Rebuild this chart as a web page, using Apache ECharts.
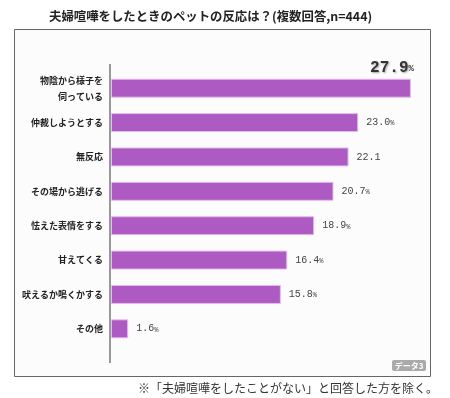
<!DOCTYPE html>
<html>
<head>
<meta charset="utf-8">
<script src="https://cdn.jsdelivr.net/npm/echarts@6/dist/echarts.min.js"></script>
<style>
  html, body { margin: 0; padding: 0; background: #fff; }
  #chart { width: 450px; height: 398px; }
</style>
</head>
<body>
<div id="chart"></div>
<script>
// 夫婦喧嘩をしたときのペットの反応
var categories = ['物陰から様子を\n伺っている', '仲裁しようとする', '無反応', 'その場から逃げる',
  '怯えた表情をする', '甘えてくる', '吠えるか鳴くかする', 'その他'];
var values = [27.9, 23.0, 22.1, 20.7, 18.9, 16.4, 15.8, 1.6];
var valueTexts = ['27.9', '23.0', '22.1', '20.7', '18.9', '16.4', '15.8', '1.6'];
var showPct = [true, true, false, true, true, true, true, true];

var chart = echarts.init(document.getElementById('chart'));

var barData = values.map(function (v, i) {
  var item = { value: v };
  if (i === 0) {
    item.label = {
      position: ['100%', -3],
      align: 'right',
      verticalAlign: 'bottom',
      offset: [3, 0],
      formatter: '{big|' + valueTexts[i] + '}{bp|%}',
      rich: {
        big: { fontFamily: 'Liberation Mono', fontSize: 16, fontWeight: 'bold', color: '#333',
          textShadowColor: 'rgba(0,0,0,0.35)', textShadowBlur: 2, textShadowOffsetX: 1, textShadowOffsetY: 1 },
        bp: { fontFamily: 'Liberation Mono', fontSize: 9, fontWeight: 'bold', color: '#333', padding: [3, 0, 0, 0] }
      }
    };
  }
  return item;
});

var option = {
  animation: false,
  backgroundColor: '#fff',
  title: {
    text: '夫婦喧嘩をしたときのペットの反応は？(複数回答,n=444)',
    left: 44,
    top: 5,
    textStyle: { fontFamily: 'Noto Sans CJK JP', fontSize: 12.4, fontWeight: 'bold', color: '#222' }
  },
  graphic: [
    { type: 'rect', z: -10, shape: { x: 14.5, y: 29.5, width: 416, height: 347 },
      style: { fill: '#fcfcfc', stroke: '#666', lineWidth: 1 } },
    { type: 'line', z: 5, shape: { x1: 110, y1: 64, x2: 110, y2: 363 },
      style: { stroke: '#999', lineWidth: 2 } },
    { type: 'rect', z: 5, shape: { x: 392, y: 360, width: 34, height: 11, r: 2 },
      style: { fill: '#aaa' } },
    { type: 'text', z: 6, x: 409, y: 365.5,
      style: { text: 'データ3', fill: '#fff', fontFamily: 'Noto Sans CJK JP', fontSize: 8, fontWeight: 'bold',
        textAlign: 'center', textVerticalAlign: 'middle' } },
    { type: 'text', z: 6, x: 438, y: 388,
      style: { text: '※「夫婦喧嘩をしたことがない」と回答した方を除く。', fill: '#333',
        fontFamily: 'Noto Sans CJK JP', fontSize: 12, textAlign: 'right', textVerticalAlign: 'middle' } }
  ],
  grid: { left: 111, top: 71, height: 275, width: 322.5, containLabel: false },
  xAxis: {
    type: 'value', min: 0, max: 30,
    show: false
  },
  yAxis: {
    type: 'category',
    data: categories,
    inverse: true,
    axisLine: { show: false },
    axisTick: { show: false },
    axisLabel: {
      margin: 8,
      fontFamily: 'Noto Sans CJK JP', fontSize: 9, fontWeight: 'bold', color: '#222',
      lineHeight: 16, align: 'right'
    }
  },
  series: [{
    type: 'bar',
    data: barData,
    barWidth: 19,
    itemStyle: { color: '#ad5bc3', borderColor: '#e6bdf0', borderWidth: 1 },
    label: {
      show: true,
      position: 'right',
      distance: 8,
      formatter: function (p) {
        var i = p.dataIndex;
        return '{v|' + valueTexts[i] + '}' + (showPct[i] ? '{p|%}' : '');
      },
      rich: {
        v: { fontFamily: 'Liberation Mono', fontSize: 10, color: '#444' },
        p: { fontFamily: 'Liberation Mono', fontSize: 7, color: '#444', padding: [2, 0, 0, 0] }
      }
    }
  }]
};

chart.setOption(option);
</script>
</body>
</html>
